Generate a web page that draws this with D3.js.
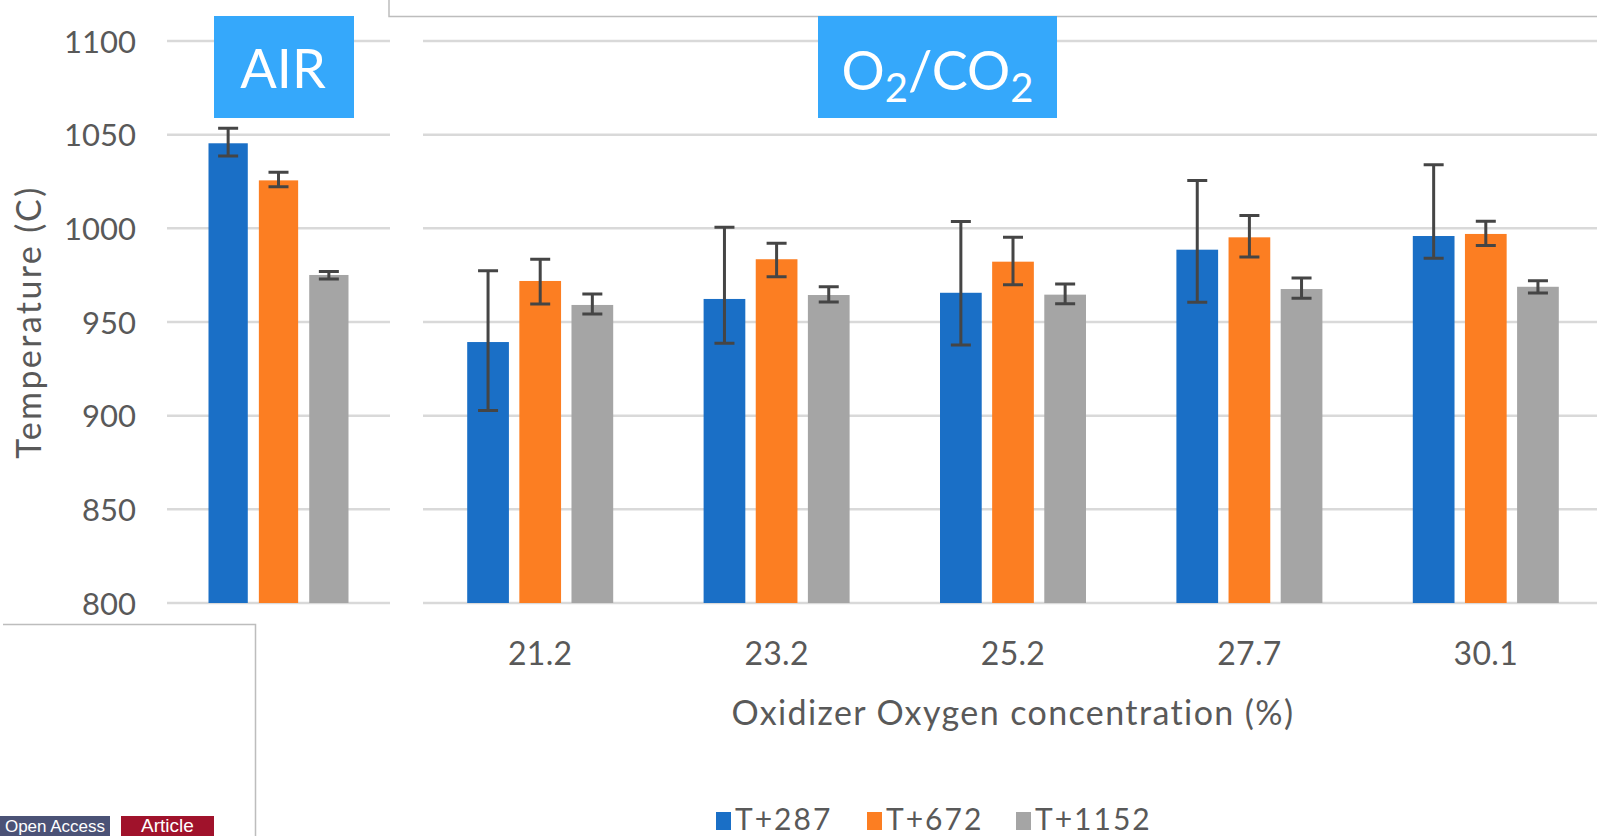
<!DOCTYPE html>
<html>
<head>
<meta charset="utf-8">
<script src="https://cdn.jsdelivr.net/npm/d3@7"></script>
<style>
  html, body { margin: 0; padding: 0; background: #fff; overflow: hidden; }
  svg { display: block; font-family: Lato, "Open Sans", sans-serif; }
</style>
</head>
<body>
<svg id="chart" width="1597" height="836"></svg>
<script>
// ---- data -------------------------------------------------------------
const seriesNames = ["T+287", "T+672", "T+1152"];
const seriesColors = ["#1A6FC6", "#FC7E22", "#A5A5A5"];

// AIR case (one cluster)
const airValues   = [1045.4, 1025.6, 975.1];
const airErrPlus  = [8.0, 4.4, 1.8];
const airErrMinus = [6.8, 3.4, 2.2];

// O2/CO2 cases
const o2Categories = ["21.2", "23.2", "25.2", "27.7", "30.1"];
const t287          = [939.3, 962.3, 965.6, 988.6, 995.9];
const t287ErrPlus   = [38.1, 38.3, 38.1, 37.0, 38.1];
const t287ErrMinus  = [36.5, 23.7, 27.9, 28.1, 11.9];
const t672          = [971.9, 983.5, 982.2, 995.2, 997.0];
const t672ErrPlus   = [11.6, 8.5, 13.0, 11.7, 6.8];
const t672ErrMinus  = [12.3, 9.3, 12.3, 10.5, 6.1];
const t1152         = [959.1, 964.4, 964.6, 967.6, 968.8];
const t1152ErrPlus  = [5.9, 4.4, 5.7, 5.9, 3.2];
const t1152ErrMinus = [4.8, 3.7, 4.8, 4.9, 3.3];

const yTicks = [800, 850, 900, 950, 1000, 1050, 1100];
const yTitle = "Temperature (C)";
const xTitle = "Oxidizer Oxygen concentration (%)";

// ---- drawing ----------------------------------------------------------
const svg = d3.select("#chart");
const textColor = "#595959";
const gridColor = "#D9D9D9";
const errColor = "#454545";

const y = d3.scaleLinear().domain([800, 1100]).range([603, 41]);

// page furniture around the figure
const furniture = svg.append("g").attr("fill", "none").attr("stroke", "#BDBDBD").attr("stroke-width", 1.5);
furniture.append("path").attr("d", "M389,0 V16.5 H1597");
furniture.append("path").attr("d", "M3,624.5 H255.5 V836");

// left panel (AIR)
const leftX = d3.scaleBand().domain(["AIR"]).range([167, 390]);
const leftInner = d3.scaleBand().domain(seriesNames).range([-70, 70]).paddingInner(0.22);

// right panel (O2/CO2)
const rightX = d3.scaleBand().domain(o2Categories).range([422, 1604]);
const rightInner = d3.scaleBand().domain(seriesNames).range([-73, 73]).paddingInner(0.2);

// gridlines
const grid = svg.append("g").attr("stroke", gridColor).attr("stroke-width", 2.5);
grid.selectAll("line.l").data(yTicks).join("line").attr("class", "l")
  .attr("x1", 167).attr("x2", 390).attr("y1", d => y(d)).attr("y2", d => y(d));
grid.selectAll("line.r").data(yTicks).join("line").attr("class", "r")
  .attr("x1", 423).attr("x2", 1597).attr("y1", d => y(d)).attr("y2", d => y(d));

// y axis labels
const yAxis = d3.axisLeft(y).tickValues(yTicks).tickFormat(d3.format("d")).tickSize(0).tickPadding(0);
const yG = svg.append("g").attr("transform", "translate(136,0)").call(yAxis);
yG.select(".domain").remove();
yG.selectAll("text").attr("font-size", 31).attr("fill", textColor)
  .attr("font-family", "Lato, 'Open Sans', sans-serif").attr("dy", "0.36em");

svg.append("text")
  .attr("transform", `translate(41,${(y(800) + y(1100)) / 2}) rotate(-90)`)
  .attr("text-anchor", "middle").attr("font-size", 34).attr("fill", textColor)
  .attr("letter-spacing", 2.4)
  .text(yTitle);

// build records
const airRows = seriesNames.map((s, i) => ({
  cat: "AIR", series: s, color: seriesColors[i],
  value: airValues[i], plus: airErrPlus[i], minus: airErrMinus[i]
}));
const rightSeries = [
  [t287, t287ErrPlus, t287ErrMinus],
  [t672, t672ErrPlus, t672ErrMinus],
  [t1152, t1152ErrPlus, t1152ErrMinus]
];
const rightRows = [];
o2Categories.forEach((c, ci) => {
  seriesNames.forEach((s, si) => {
    const [v, p, m] = rightSeries[si];
    rightRows.push({ cat: c, series: s, color: seriesColors[si], value: v[ci], plus: p[ci], minus: m[ci] });
  });
});

function drawBars(rows, outer, inner) {
  const g = svg.append("g");
  const cx = d => outer(d.cat) + outer.bandwidth() / 2 + inner(d.series);
  g.selectAll("rect").data(rows).join("rect")
    .attr("x", cx)
    .attr("width", inner.bandwidth())
    .attr("y", d => y(d.value))
    .attr("height", d => y(800) - y(d.value))
    .attr("fill", d => d.color);

  const eb = g.append("g").attr("stroke", errColor).attr("stroke-width", 3).attr("fill", "none");
  const mid = d => cx(d) + inner.bandwidth() / 2;
  eb.selectAll("path").data(rows).join("path")
    .attr("d", d => {
      const m = mid(d), t = y(d.value + d.plus), b = y(d.value - d.minus);
      return `M${m},${t} V${b} M${m - 10},${t} H${m + 10} M${m - 10},${b} H${m + 10}`;
    });
}
drawBars(airRows, leftX, leftInner);
drawBars(rightRows, rightX, rightInner);

// x axis labels for O2/CO2
const xAxis = d3.axisBottom(rightX).tickSize(0).tickPadding(0);
const xG = svg.append("g").attr("transform", "translate(0,665)").call(xAxis);
xG.select(".domain").remove();
xG.selectAll("text").attr("font-size", 32).attr("fill", textColor)
  .attr("font-family", "Lato, 'Open Sans', sans-serif").attr("dy", 0)
  .attr("letter-spacing", 0.3);

svg.append("text")
  .attr("x", (rightX.range()[0] + rightX.range()[1]) / 2).attr("y", 725)
  .attr("text-anchor", "middle").attr("font-size", 34).attr("fill", textColor)
  .attr("letter-spacing", 1.4)
  .text(xTitle);

// case labels
const boxColor = "#35A8FB";
svg.append("rect").attr("x", 214).attr("y", 16).attr("width", 140).attr("height", 102).attr("fill", boxColor);
svg.append("text").attr("x", 283).attr("y", 88).attr("text-anchor", "middle")
  .attr("font-size", 54).attr("fill", "#fff").text("AIR");

svg.append("rect").attr("x", 818).attr("y", 16).attr("width", 239).attr("height", 102).attr("fill", boxColor);
const o2 = svg.append("text").attr("x", 937.5).attr("y", 90).attr("text-anchor", "middle")
  .attr("font-size", 54).attr("fill", "#fff");
o2.append("tspan").text("O");
o2.append("tspan").attr("font-size", 40).attr("dy", 12).text("2");
o2.append("tspan").attr("dy", -12).text("/CO");
o2.append("tspan").attr("font-size", 40).attr("dy", 12).text("2");

// legend
const legendX = [716, 867, 1016];
const lg = svg.append("g");
seriesNames.forEach((s, i) => {
  lg.append("rect").attr("x", legendX[i]).attr("y", 812).attr("width", 15).attr("height", 18).attr("fill", seriesColors[i]);
  lg.append("text").attr("x", legendX[i] + 19).attr("y", 830).attr("font-size", 30)
    .attr("letter-spacing", 2)
    .attr("fill", textColor).text(s);
});

// page buttons below the figure
const btn = svg.append("g").attr("font-family", "'Liberation Sans', Arial, sans-serif").attr("fill", "#fff");
btn.append("rect").attr("x", 0).attr("y", 816).attr("width", 110).attr("height", 30).attr("fill", "#4B5276");
btn.append("text").attr("x", 55).attr("y", 832).attr("text-anchor", "middle").attr("font-size", 17).text("Open Access");
btn.append("rect").attr("x", 121).attr("y", 816).attr("width", 93).attr("height", 30).attr("fill", "#A0122B");
btn.append("text").attr("x", 167.5).attr("y", 832).attr("text-anchor", "middle").attr("font-size", 19).text("Article");
</script>
</body>
</html>
